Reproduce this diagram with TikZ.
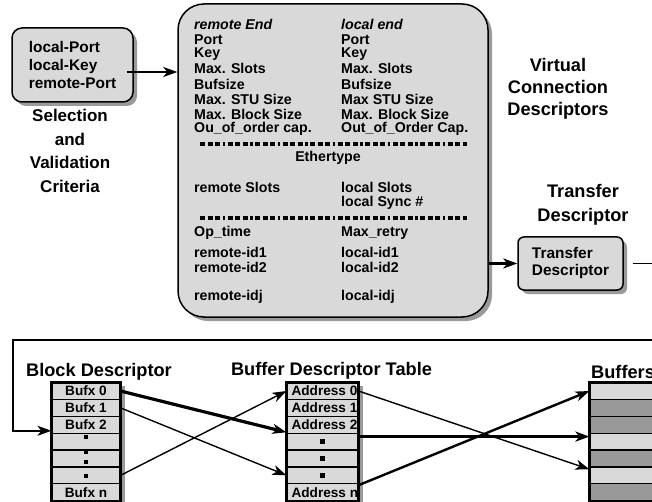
\documentclass[tikz,border=0pt]{standalone}
\usepackage{fontspec}
\setmainfont{Liberation Sans}
\usetikzlibrary{arrows.meta,shadows,calc,backgrounds}
\definecolor{boxgray}{HTML}{D9D9D9}
\definecolor{shadowgray}{HTML}{9A9A9A}
\definecolor{rowdark}{HTML}{999999}
\begin{document}
\begin{tikzpicture}[x=1pt,y=-1pt,
  panel/.style={draw, line width=1.5pt, fill=boxgray,
    drop shadow={shadow xshift=4pt, shadow yshift=-4pt, fill=shadowgray, opacity=1}},
  vcdtext/.style={anchor=west, inner sep=0pt, font=\fontsize{14.2}{15}\selectfont\bfseries},
  heading/.style={align=center, inner sep=0pt, font=\fontsize{18.2}{23.5}\selectfont\bfseries},
  rowcell/.style={draw, line width=1.2pt, minimum height=16.86pt, inner sep=0pt, anchor=north,
    font=\fontsize{13.6}{14}\selectfont\bfseries},
  celltext/.style={anchor=west, inner sep=0pt, font=\fontsize{13.6}{14}\selectfont\bfseries},
  divider/.style={line width=4pt, dash pattern=on 5pt off 2.5pt on 5pt off 2.5pt on 5pt off 2.5pt on 2.5pt off 2.5pt},
  arrowtip/.style={-{Stealth[length=14pt,width=10pt,inset=4pt]}},
  link/.style={arrowtip, line width=1.4pt},
  linkthick/.style={arrowtip, line width=3.2pt},
  sqmark/.style={fill=black, inner sep=0pt, minimum size=4.5pt},
  tableframe/.style={line width=3pt}
]
\useasboundingbox (0,0) rectangle (652,502);
\begin{scope}[on background layer]
  \fill[white] (0,0) rectangle (652,502);
\end{scope}

% selection criteria box and its caption
\node[panel, rounded corners=10pt, minimum width=121pt, minimum height=74pt, align=left,
  font=\fontsize{15.4}{18}\selectfont\bfseries] (sel) at (72.5,65) {local-Port\\local-Key\\remote-Port};
\node[heading, font=\fontsize{17}{23.5}\selectfont\bfseries] (selcap) at (70,151) {Selection\\and\\Validation\\Criteria};

% virtual connection descriptor panel
\node[panel, rounded corners=26pt, minimum width=310pt, minimum height=313pt] (vcd) at (333,160.5) {};
\node[vcdtext, font=\fontsize{14.2}{15}\selectfont\bfseries\itshape] (remhd) at (194,24) {remote End};
\node[vcdtext, font=\fontsize{14.2}{15}\selectfont\bfseries\itshape] (lochd) at (341,24) {local end};
\foreach \y/\l/\r [count=\k] in {40/Port/Port, 54.5/Key/Key, 68.5/Max. Slots/Max. Slots,
    84/Bufsize/Bufsize, 99/Max. STU Size/Max STU Size, 114/Max. Block Size/Max. Block Size,
    129/Ou\_of\_order cap./Out\_of\_Order Cap.} {
  \node[vcdtext] (rem\k) at (194,\y) {\l};
  \node[vcdtext] (loc\k) at (341,\y) {\r};
}
\draw[divider] (200,144) -- (467,144);
\node[vcdtext, anchor=center] (ether) at (328,158) {Ethertype};
\node[vcdtext] (remslots) at (194,187.5) {remote Slots};
\node[vcdtext] (locslots) at (341,187.5) {local Slots};
\node[vcdtext] (locsync) at (341,203) {local Sync \#};
\draw[divider] (200,218) -- (467,218);
\node[vcdtext] (optime) at (194,233) {Op\_time};
\node[vcdtext] (maxretry) at (341,233) {Max\_retry};
\node[vcdtext] (remid1) at (194,252) {remote-id1};
\node[vcdtext] (locid1) at (341,252) {local-id1};
\node[vcdtext] (remid2) at (194,267) {remote-id2};
\node[vcdtext] (locid2) at (341,267) {local-id2};
\node[vcdtext] (remidj) at (194,297) {remote-idj};
\node[vcdtext] (locidj) at (341,297) {local-idj};

\node[heading, font=\fontsize{18.2}{22}\selectfont\bfseries] (vcdcap) at (558,89) {Virtual\\Connection\\Descriptors};

% transfer descriptor
\node[heading] (tdcap) at (583,205) {Transfer\\Descriptor};
\node[panel, rounded corners=6pt, minimum width=105pt, minimum height=53pt, align=left,
  font=\fontsize{15.4}{17}\selectfont\bfseries] (td) at (570.5,263.5) {Transfer\\Descriptor};

\coordinate (selout) at ($(sel.east)+(-7,7)$);
\draw[link, line width=1.8pt] (selout) -- (selout -| vcd.west);
\draw[link, line width=2.6pt] (vcd.east |- td.west) -- (td.west);

% wrap-around from the transfer descriptor to the block descriptor
\coordinate (wrapR) at (656,262);
\coordinate (wrapT) at (656,340);
\coordinate (wrapL) at (13,340);
\draw[line width=1.8pt] ([xshift=9pt]td.east) -- (wrapR |- td.east);

% block descriptor
\node[heading] (bdcap) at (99,372) {Block Descriptor};
\foreach \i/\t in {0/Bufx 0,1/Bufx 1,2/Bufx 2,3/,4/,5/,6/Bufx n}
  \node[rowcell, fill=boxgray, minimum width=68pt] (bd\i) at (86,382+\i*16.86) {\t};
\draw[tableframe] (bd0.north west) rectangle (bd6.south east);
\node[sqmark] (bdm1) at (86,437) {};
\node[sqmark] (bdm2) at (86,452) {};
\node[sqmark] (bdm3) at (86,462) {};
\node[sqmark] (bdm4) at (86,476) {};

% buffer descriptor table
\node[heading] (btcap) at (331.5,371) {Buffer Descriptor Table};
\foreach \i in {0,...,6}
  \node[rowcell, fill=boxgray, minimum width=71pt] (bt\i) at (322.5,382+\i*16.86) {};
\begin{scope}
  \clip (bt0.north west) rectangle (bt6.south east);
  \foreach \i/\t in {0/Address 0,1/Address 1,2/Address 2,6/Address n}
    \node[celltext] (ad\i) at ($(bt\i.west)+(5,0)$) {\t};
\end{scope}
\draw[tableframe] (bt0.north west) rectangle (bt6.south east);
\foreach \i in {3,4,5}
  \node[sqmark] (btm\i) at (bt\i.center) {};

% buffers
\node[heading, anchor=west] (bfcap) at (591,372) {Buffers};
\foreach \i/\c in {0/boxgray,1/rowdark,2/rowdark,3/boxgray,4/rowdark,5/boxgray,6/rowdark}
  \node[rowcell, fill=\c, minimum width=72pt] (bf\i) at (626,382+\i*16.86) {};
\draw[tableframe] (bf0.north west) rectangle (bf6.south east);

% table shadows
\begin{scope}[on background layer]
  \fill[shadowgray] ($(bd0.north west)+(4,4)$) rectangle ($(bd6.south east)+(4,4)$);
  \fill[shadowgray] ($(bt0.north west)+(4,4)$) rectangle ($(bt6.south east)+(4,4)$);
\end{scope}

\draw[link, line width=1.6pt] (wrapT) -- (wrapL) |- ($(bd2.south west)+(0,-3)$);

% pointers between tables
\draw[linkthick] (bd0.east) -- ($(bt2.south west)+(0,-1.5)$);
\draw[link] (bd1.east) -- (bt5.west);
\draw[link] (bd5.east) -- (bt0.west);
\draw[link] (bt0.east) -- ($(bf5.north west)+(0,3)$);
\draw[linkthick] ($(bt3.north east)+(0,4)$) -- ($(bf3.north west)+(0,4)$);
\draw[link, line width=2.4pt] ($(bt6.north east)+(0,2)$) -- (bf0.west);
\end{tikzpicture}
\end{document}
